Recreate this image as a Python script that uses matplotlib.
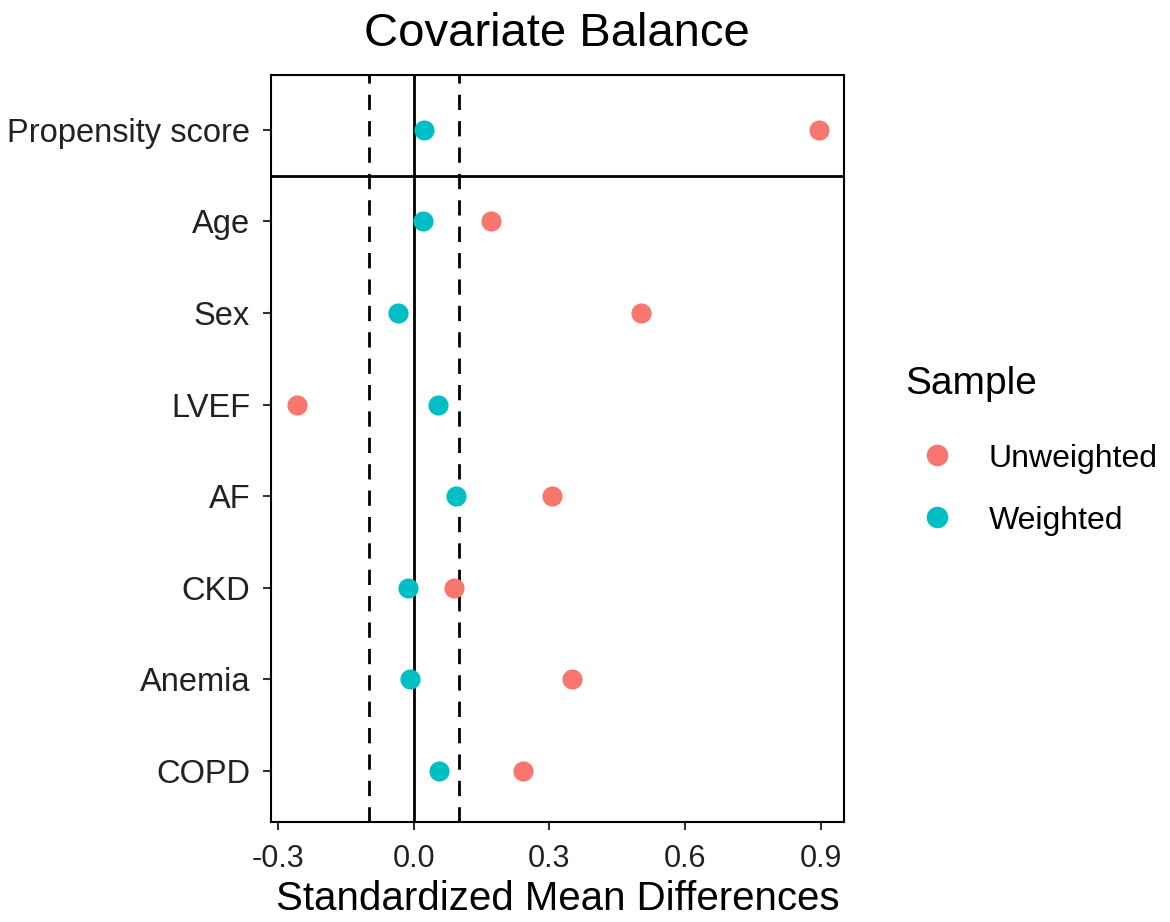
import matplotlib
matplotlib.use("Agg")
import matplotlib.pyplot as plt
from matplotlib.lines import Line2D

plt.rcParams['font.family'] = ['Liberation Sans', 'DejaVu Sans']

covariates = ["Propensity score", "Age", "Sex", "LVEF", "AF", "CKD", "Anemia", "COPD"]
unweighted = [0.896, 0.170, 0.503, -0.258, 0.305, 0.088, 0.351, 0.241]
weighted = [0.022, 0.020, -0.035, 0.053, 0.093, -0.013, -0.009, 0.055]
xticks = [-0.3, 0.0, 0.3, 0.6, 0.9]
xtick_labels = ["-0.3", "0.0", "0.3", "0.6", "0.9"]
threshold = 0.1

col_unw = "#F8766D"
col_w = "#00BFC4"

fig = plt.figure(figsize=(11.7, 9.22), dpi=100)
ax = fig.add_axes([0.2316, 0.1085, 0.4898, 0.8102])

n = len(covariates)
ypos = list(range(n, 0, -1))

ax.axvline(0, color="black", lw=2, zorder=1)
ax.axvline(-threshold, color="black", lw=2, ls=(0, (5.5, 4)), zorder=1)
ax.axvline(threshold, color="black", lw=2, ls=(0, (5.5, 4)), zorder=1)
ax.axhline(n - 0.5, color="black", lw=2, zorder=1)

ax.scatter(unweighted, ypos, s=210, color=col_unw, zorder=3, linewidths=0)
ax.scatter(weighted, ypos, s=210, color=col_w, zorder=3, linewidths=0)

ax.set_ylim(0.44, n + 0.6)
ax.set_xlim(-0.316, 0.952)
ax.set_yticks(ypos)
ax.set_yticklabels(covariates, fontsize=23.5, color="#222222")
ax.set_xticks(xticks)
ax.set_xticklabels(xtick_labels, fontsize=22, color="#222222")
ax.tick_params(axis="y", length=6, width=1.5, color="#333333", pad=9)
ax.tick_params(axis="x", length=6, width=1.5, color="#333333", pad=10)
for sp in ax.spines.values():
    sp.set_linewidth(1.5)
    sp.set_color("black")

ax.set_xlabel("Standardized Mean Differences", fontsize=29, labelpad=4)
fig.suptitle("Covariate Balance", fontsize=34, x=0.476, y=0.987, va="top")

handles = [
    Line2D([], [], marker="o", ls="", color=col_unw, markersize=14.5, label="Unweighted"),
    Line2D([], [], marker="o", ls="", color=col_w, markersize=14.5, label="Weighted"),
]
leg = fig.legend(handles=handles, title="Sample", loc="upper left",
                 bbox_to_anchor=(0.763, 0.617), frameon=False, fontsize=23,
                 title_fontsize=28, labelspacing=1.0, handletextpad=0.6,
                 borderaxespad=0)
leg._legend_box.align = "left"
leg._legend_box.sep = 30

fig.savefig("out.png", dpi=100)
